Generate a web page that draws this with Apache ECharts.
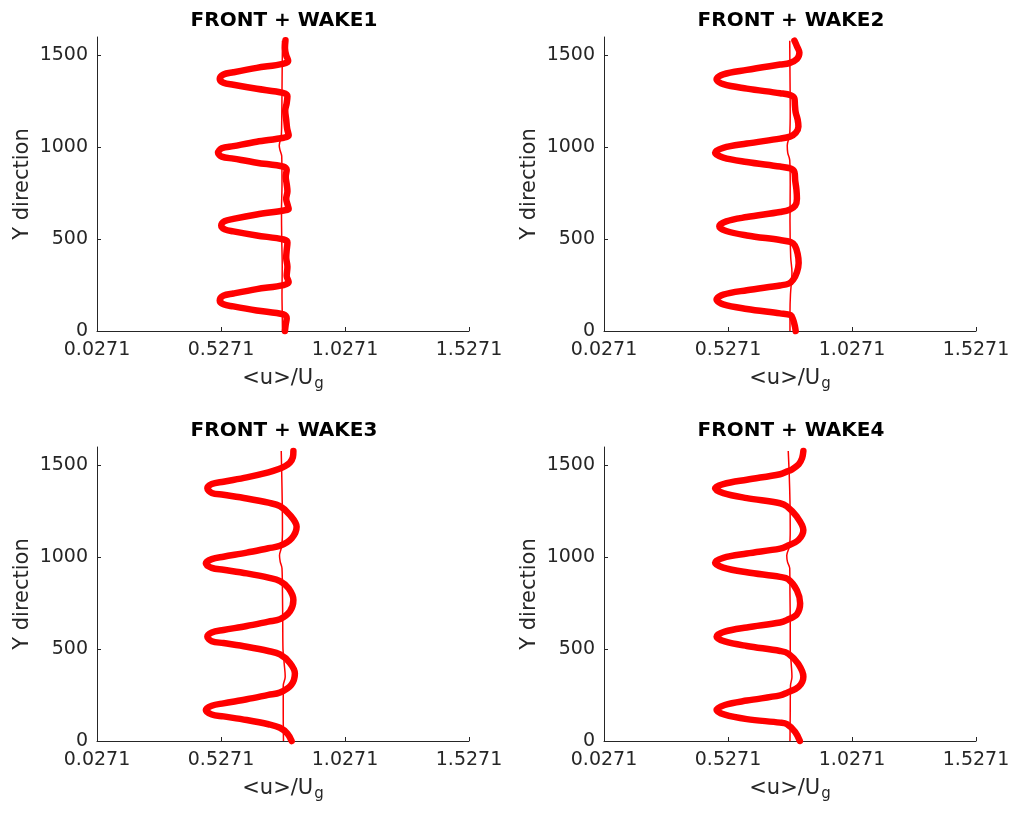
<!DOCTYPE html>
<html>
<head>
<meta charset="utf-8">
<title>FRONT + WAKE profiles</title>
<script src="https://cdn.jsdelivr.net/npm/echarts@6/dist/echarts.min.js"></script>
<style>
  html, body { margin: 0; padding: 0; background: #ffffff; }
  #chart { width: 1016px; height: 813px; }
</style>
</head>
<body>
<div id="chart"></div>
<script>
// Panel titles
const panelTitles = ['FRONT + WAKE1', 'FRONT + WAKE2', 'FRONT + WAKE3', 'FRONT + WAKE4'];

// Axis ticks
const xTicks = [0.0271, 0.5271, 1.0271, 1.5271];
const yTicks = [0, 500, 1000, 1500];
const xRange = [0.0271, 1.5271];
const yRange = [0, 1600];

// Profiles: [<u>/Ug, Y]
const wake1Thick = [
  [0.787,1582],[0.785,1540],[0.790,1500],[0.798,1470],[0.777,1454],[0.671,1432],[0.577,1408],[0.537,1396],
  [0.522,1372],[0.537,1351],[0.577,1340],[0.671,1318],[0.777,1296],[0.795,1278],[0.792,1240],[0.786,1200],
  [0.790,1150],[0.794,1100],[0.800,1064],[0.780,1052],[0.671,1030],[0.577,1006],[0.530,994],[0.515,970],
  [0.530,949],[0.577,938],[0.671,916],[0.780,894],[0.792,878],[0.788,840],[0.792,800],[0.795,760],
  [0.790,720],[0.797,680],[0.800,664],[0.780,656],[0.671,634],[0.577,610],[0.542,598],[0.528,574],
  [0.542,553],[0.577,542],[0.671,520],[0.780,498],[0.795,482],[0.792,440],[0.790,400],[0.795,350],
  [0.792,300],[0.800,266],[0.780,250],[0.671,228],[0.577,204],[0.537,192],[0.522,166],[0.537,145],
  [0.577,134],[0.671,112],[0.780,90],[0.792,70],[0.788,35],[0.785,0]
];
const wake1Thin = [
  [0.775,1580],[0.774,1450],[0.773,1300],[0.772,1150],[0.770,1060],[0.762,1010],[0.765,985],[0.772,950],
  [0.773,800],[0.771,650],[0.772,500],[0.774,350],[0.773,200],[0.774,100],[0.775,0]
];

const wake2Thick = [
  [0.795,1580],[0.805,1550],[0.815,1515],[0.805,1480],[0.775,1458],[0.737,1450],[0.603,1421],[0.508,1397],
  [0.481,1370],[0.508,1343],[0.603,1319],[0.737,1294],[0.780,1283],[0.795,1265],[0.797,1230],[0.800,1190],
  [0.808,1150],[0.811,1112],[0.800,1078],[0.777,1058],[0.737,1047],[0.603,1020],[0.508,997],[0.475,970],
  [0.508,944],[0.603,920],[0.737,895],[0.780,884],[0.795,865],[0.798,820],[0.803,770],[0.805,720],
  [0.798,682],[0.775,660],[0.737,648],[0.603,620],[0.520,597],[0.492,570],[0.520,544],[0.603,520],
  [0.737,495],[0.780,484],[0.797,465],[0.808,420],[0.812,370],[0.805,320],[0.790,280],[0.772,258],
  [0.737,248],[0.603,222],[0.508,198],[0.481,171],[0.508,145],[0.603,120],[0.737,96],[0.780,86],
  [0.790,60],[0.797,25],[0.800,0]
];
const wake2Thin = [
  [0.776,1580],[0.777,1400],[0.778,1200],[0.776,1070],[0.766,1010],[0.768,970],[0.776,930],[0.778,800],
  [0.777,600],[0.780,400],[0.785,320],[0.779,200],[0.777,100],[0.777,0]
];

const wake3Thick = [
  [0.819,1578],[0.817,1545],[0.805,1515],[0.785,1495],[0.760,1480],[0.718,1462],[0.631,1435],[0.537,1411],
  [0.490,1398],[0.472,1375],[0.490,1350],[0.537,1340],[0.631,1320],[0.718,1297],[0.765,1278],[0.805,1230],
  [0.832,1166],[0.812,1103],[0.765,1062],[0.718,1049],[0.631,1025],[0.537,1003],[0.490,990],[0.466,967],
  [0.490,942],[0.537,932],[0.631,912],[0.718,889],[0.765,870],[0.800,830],[0.819,767],[0.805,705],
  [0.765,663],[0.718,650],[0.631,626],[0.537,604],[0.490,591],[0.472,568],[0.490,543],[0.537,533],
  [0.631,513],[0.718,490],[0.765,471],[0.805,425],[0.825,368],[0.810,305],[0.765,264],[0.718,251],
  [0.631,227],[0.537,205],[0.490,192],[0.466,169],[0.490,144],[0.537,134],[0.631,114],[0.718,91],
  [0.765,72],[0.795,40],[0.812,0]
];
const wake3Thin = [
  [0.770,1578],[0.772,1450],[0.774,1300],[0.775,1150],[0.772,1060],[0.763,1010],[0.766,975],[0.773,940],
  [0.775,800],[0.776,650],[0.777,500],[0.782,420],[0.786,350],[0.778,300],[0.778,150],[0.779,0]
];

const wake4Thick = [
  [0.831,1578],[0.826,1540],[0.812,1505],[0.785,1478],[0.764,1466],[0.737,1452],[0.603,1422],[0.508,1398],
  [0.475,1375],[0.508,1349],[0.603,1322],[0.737,1294],[0.764,1278],[0.804,1222],[0.831,1148],[0.811,1094],
  [0.764,1060],[0.737,1047],[0.603,1020],[0.508,997],[0.475,970],[0.508,944],[0.603,918],[0.737,893],
  [0.770,880],[0.805,820],[0.818,749],[0.805,690],[0.764,658],[0.737,645],[0.603,618],[0.514,595],
  [0.481,568],[0.514,542],[0.603,517],[0.737,490],[0.770,476],[0.810,420],[0.831,350],[0.812,295],
  [0.764,262],[0.737,248],[0.603,220],[0.514,196],[0.481,169],[0.514,143],[0.603,119],[0.737,100],
  [0.764,92],[0.798,49],[0.817,0]
];
const wake4Thin = [
  [0.770,1578],[0.774,1450],[0.777,1300],[0.778,1150],[0.775,1060],[0.764,1010],[0.767,975],[0.776,940],
  [0.777,800],[0.778,650],[0.778,500],[0.782,420],[0.785,350],[0.779,300],[0.778,150],[0.777,0]
];

const thickProfiles = [wake1Thick, wake2Thick, wake3Thick, wake4Thick];
const thinProfiles = [wake1Thin, wake2Thin, wake3Thin, wake4Thin];

const FONT = 'DejaVu Sans';
const INK = '#262626';
const RED = '#ff0000';

// 2x2 panel frames
const panels = [
  { left: 97,  top: 37,  width: 372, height: 294 },
  { left: 604, top: 37,  width: 372, height: 294 },
  { left: 97,  top: 447, width: 372, height: 294 },
  { left: 604, top: 447, width: 372, height: 294 }
];

const fmtX = v => {
  const hit = xTicks.find(t => Math.abs(t - v) < 1e-6);
  return hit !== undefined ? hit.toFixed(4) : '';
};
const fmtY = v => String(Math.round(v));

const option = {
  backgroundColor: '#ffffff',
  animation: false,
  title: panels.map((p, i) => ({
    text: panelTitles[i],
    left: p.left + p.width / 2 + 1,
    top: p.top - 26,
    padding: 0,
    textAlign: 'center',
    textStyle: { fontFamily: FONT, fontSize: 20, fontWeight: 'bold', color: '#000000' }
  })),
  grid: panels.map(p => ({ left: p.left, top: p.top, width: p.width, height: p.height, containLabel: false })),
  xAxis: panels.map((p, i) => ({
    type: 'value',
    gridIndex: i,
    min: xRange[0],
    max: xRange[1],
    name: '{n|<u>/U}{s|g}',
    nameLocation: 'middle',
    nameGap: 34,
    nameTextStyle: {
      rich: {
        n: { fontFamily: FONT, fontSize: 21, color: INK, verticalAlign: 'top', lineHeight: 24 },
        s: { fontFamily: FONT, fontSize: 15, color: INK, verticalAlign: 'bottom', lineHeight: 16, padding: [16, 0, 0, 1] }
      }
    },
    axisLine: { show: true, onZero: false, lineStyle: { color: INK, width: 1 } },
    axisTick: { show: true, inside: true, length: 4, customValues: xTicks, lineStyle: { color: INK } },
    axisLabel: { show: true, customValues: xTicks, formatter: fmtX, margin: 10, fontFamily: FONT, fontSize: 19, color: INK },
    splitLine: { show: false }
  })),
  yAxis: panels.map((p, i) => ({
    type: 'value',
    gridIndex: i,
    min: yRange[0],
    max: yRange[1],
    name: 'Y direction',
    nameLocation: 'middle',
    nameGap: 64,
    nameTextStyle: { fontFamily: FONT, fontSize: 21, color: INK },
    axisLine: { show: true, onZero: false, lineStyle: { color: INK, width: 1 } },
    axisTick: { show: true, inside: true, length: 4, customValues: yTicks, lineStyle: { color: INK } },
    axisLabel: { show: true, customValues: yTicks, formatter: fmtY, margin: 9, fontFamily: FONT, fontSize: 19, color: INK },
    splitLine: { show: false }
  })),
  series: []
};

thinProfiles.forEach((data, i) => {
  option.series.push({
    type: 'line', xAxisIndex: i, yAxisIndex: i, data: data,
    showSymbol: false, smooth: 0.35, clip: false, z: 2,
    lineStyle: { color: RED, width: 1.5 }
  });
});
thickProfiles.forEach((data, i) => {
  option.series.push({
    type: 'line', xAxisIndex: i, yAxisIndex: i, data: data,
    showSymbol: false, smooth: 0.35, clip: false, z: 3,
    lineStyle: { color: RED, width: 6.5, cap: 'round', join: 'round' }
  });
});

const chart = echarts.init(document.getElementById('chart'), null, { renderer: 'canvas' });
chart.setOption(option);
</script>
</body>
</html>
